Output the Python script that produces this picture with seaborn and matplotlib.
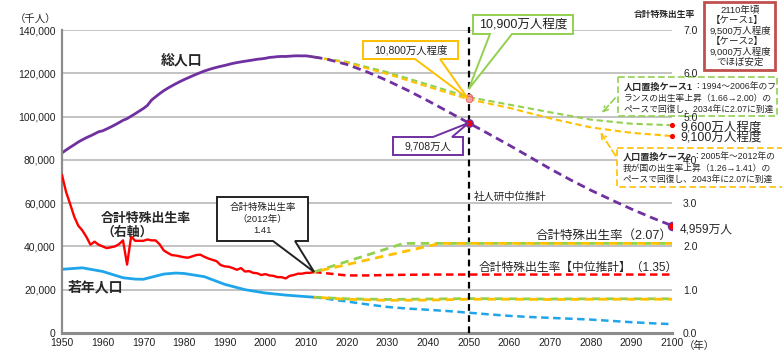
import matplotlib
matplotlib.use("Agg")
import matplotlib.pyplot as plt
import numpy as np
import pandas as pd
import seaborn as sns
from matplotlib.patches import Polygon, Rectangle, FancyArrowPatch
from matplotlib.transforms import Affine2D
from matplotlib.ticker import FuncFormatter, MultipleLocator

# ---------------- data ----------------
pop_years = list(range(1950, 2013))
pop_total = [83200, 84541, 85808, 86981, 88239, 89276, 90259, 91088, 92010, 92971,
             93419, 94287, 95181, 96156, 97182, 98275, 99036, 100196, 101331, 102536,
             103720, 105145, 107595, 109104, 110573, 111940, 113094, 114165, 115190, 116155,
             117060, 117902, 118728, 119536, 120305, 121049, 121660, 122239, 122745, 123205,
             123611, 124101, 124567, 124938, 125265, 125570, 125859, 126157, 126472, 126667,
             126926, 127316, 127486, 127694, 127787, 127768, 127901, 128033, 128084, 128032,
             128057, 127799, 127515]

proj_years = [2012, 2015, 2020, 2025, 2030, 2035, 2040, 2045, 2050, 2055, 2060,
              2065, 2070, 2075, 2080, 2085, 2090, 2095, 2100]
pop_mid = [127515, 126597, 124100, 120659, 116618, 112124, 107276, 102210, 97076, 91933,
           86737, 81355, 75900, 70800, 66000, 61600, 57300, 53300, 49591]

case_years = [2012, 2020, 2030, 2040, 2050, 2060, 2070, 2080, 2090, 2100]
pop_case1 = [127515, 125300, 120500, 114800, 109000, 105500, 102000, 98600, 96700, 96000]
pop_case2 = [127515, 124900, 119700, 113800, 108000, 104000, 99200, 95000, 92500, 91000]

young_years = [1950, 1955, 1960, 1965, 1968, 1970, 1975, 1978, 1980, 1985, 1990,
               1995, 2000, 2005, 2010, 2012]
young_actual = [29428, 30123, 28434, 25529, 24900, 24823, 27221, 27700, 27507, 26033,
                22486, 20014, 18472, 17521, 16803, 16547]
young_mid = [16547, 15827, 14568, 13240, 12039, 11287, 10732, 10116, 9387, 8614,
             7912, 7400, 7000, 6600, 6200, 5600, 5000, 4500, 4100]
young_case1 = [16547, 15800, 15500, 15700, 15900, 15800, 15700, 15800, 15800, 15800]
young_case2 = [16547, 15600, 15100, 15200, 15600, 15600, 15500, 15600, 15600, 15600]

tfr_years = list(range(1950, 2013))
tfr = [3.65, 3.26, 2.98, 2.69, 2.48, 2.37, 2.22, 2.04, 2.11, 2.04,
       2.00, 1.96, 1.98, 2.00, 2.05, 2.14, 1.58, 2.23, 2.13, 2.13,
       2.13, 2.16, 2.14, 2.14, 2.05, 1.91, 1.85, 1.80, 1.79, 1.77,
       1.75, 1.74, 1.77, 1.80, 1.81, 1.76, 1.72, 1.69, 1.66, 1.57,
       1.54, 1.53, 1.50, 1.46, 1.50, 1.42, 1.43, 1.39, 1.38, 1.34,
       1.36, 1.33, 1.32, 1.29, 1.29, 1.26, 1.32, 1.34, 1.37, 1.37,
       1.39, 1.39, 1.41]
tfr_mid_years = [2012, 2015, 2020, 2025, 2030, 2040, 2050, 2100]
tfr_mid = [1.41, 1.38, 1.33, 1.33, 1.34, 1.35, 1.35, 1.35]
tfr_case1_years = [2012, 2034, 2100]
tfr_case1 = [1.41, 2.07, 2.07]
tfr_case2_years = [2012, 2043, 2100]
tfr_case2 = [1.41, 2.07, 2.07]

x_ticks = list(range(1950, 2101, 10))
y_ticks = list(range(0, 140001, 20000))
y2_ticks = [0, 1, 2, 3, 4, 5, 6, 7]

# ---------------- style ----------------
sns.set_style("white")
plt.rcParams['font.family'] = ['Liberation Sans', 'Noto Sans CJK JP']
plt.rcParams['axes.unicode_minus'] = False

PURPLE = '#7030A0'
RED = '#FF0000'
BLUE = '#1FA5EA'
GREEN = '#92D050'
YELLOW = '#FFC000'
GRAY = '#8C8C8C'

W, H = 782, 358
fig = plt.figure(figsize=(W / 100, H / 100), dpi=100)
ax = fig.add_axes([62 / W, 1 - 333 / H, (672 - 62) / W, (333 - 30) / H])
ax2 = ax.twinx()

PIX = Affine2D().scale(1 / W, -1 / H).translate(0, 1) + fig.transFigure


def ftext(x, y, s, **kw):
    kw.setdefault('zorder', 6)
    return fig.text(x / W, 1 - y / H, s, **kw)


# ---------------- lines ----------------
d = (0, (3, 1.8))
sns.lineplot(x=pop_years, y=pop_total, ax=ax, color=PURPLE, lw=2.0)
sns.lineplot(x=case_years, y=pop_case1, ax=ax, color=GREEN, lw=1.5, linestyle=(0, (3, 1.8)))
sns.lineplot(x=case_years, y=pop_case2, ax=ax, color=YELLOW, lw=1.5, linestyle=(0, (3, 1.8)))
sns.lineplot(x=proj_years, y=pop_mid, ax=ax, color=PURPLE, lw=2.0, linestyle=(0, (3, 1.8)))

sns.lineplot(x=young_years, y=young_actual, ax=ax, color=BLUE, lw=2.0)
sns.lineplot(x=proj_years, y=young_mid, ax=ax, color=BLUE, lw=1.8, linestyle=(0, (3, 1.8)))
sns.lineplot(x=case_years, y=young_case1, ax=ax, color=GREEN, lw=2.0, linestyle=(0, (3, 2)))
sns.lineplot(x=case_years, y=young_case2, ax=ax, color=YELLOW, lw=2.0, linestyle=(2.5, (3, 2)))

sns.lineplot(x=tfr_years, y=tfr, ax=ax2, color=RED, lw=1.7)
sns.lineplot(x=tfr_mid_years, y=tfr_mid, ax=ax2, color=RED, lw=1.8, linestyle=(0, (3, 1.8)))
sns.lineplot(x=tfr_case1_years, y=tfr_case1, ax=ax2, color=GREEN, lw=2.0, linestyle=(0, (3, 2)))
sns.lineplot(x=tfr_case2_years, y=tfr_case2, ax=ax2, color=YELLOW, lw=2.0, linestyle=(2.5, (3, 2)))

# vertical 2050 line
ax.axvline(2050, ymin=0, ymax=1.01, color='black', lw=1.6, linestyle=(0, (3, 2)), clip_on=False, zorder=3)

# markers
i50 = proj_years.index(2050)
c50 = case_years.index(2050)
sns.scatterplot(x=[2050], y=[pop_mid[i50]], ax=ax, s=28, color=RED, edgecolor=PURPLE, linewidth=1.0, zorder=5)
sns.scatterplot(x=[2100], y=[pop_mid[-1]], ax=ax, s=34, color=RED, edgecolor=PURPLE, linewidth=1.0, zorder=5)
sns.scatterplot(x=[2050, 2050], y=[pop_case1[c50], pop_case2[c50]], ax=ax, s=22,
                color='#F4A0A0', edgecolor='#E06060', linewidth=0.6, zorder=5)
sns.scatterplot(x=[2100, 2100], y=[pop_case1[-1], pop_case2[-1]], ax=ax, s=14,
                color=RED, edgecolor=RED, linewidth=0, zorder=5, clip_on=False)

# ---------------- axes ----------------
ax.set_xlim(1950, 2100)
ax.set_ylim(0, 140000)
ax2.set_ylim(0, 7)
for a in (ax, ax2):
    a.set_xlabel('')
    a.set_ylabel('')

ax.set_xticks(x_ticks)
ax.xaxis.set_minor_locator(MultipleLocator(5))
ax.set_yticks(y_ticks)
ax.yaxis.set_major_formatter(FuncFormatter(lambda v, p: f'{int(v):,}'))
ax.tick_params(axis='y', length=0, pad=4.5, labelsize=7.5, labelcolor='#222222')
ax.tick_params(axis='x', which='both', direction='inout', length=5, width=1,
               color=GRAY, labelsize=7.5, pad=1, labelcolor='#222222')
ax.yaxis.grid(True, color='#BEBEBE', lw=1.3)
ax.set_axisbelow(True)

ax2.set_yticks(y2_ticks)
ax2.yaxis.set_major_formatter(FuncFormatter(lambda v, p: f'{v:.1f}'))
ax2.tick_params(axis='y', length=0, pad=8, labelsize=7.5, labelcolor='#222222')
ax2.set_axisbelow(True)

for s in ('top', 'right'):
    ax.spines[s].set_visible(False)
ax.spines['left'].set_color(GRAY)
ax.spines['left'].set_linewidth(1.6)
ax.spines['bottom'].set_color(GRAY)
ax.spines['bottom'].set_linewidth(2.2)
for s in ax2.spines.values():
    s.set_visible(False)


def to_pix(a, x, y):
    dd = a.transData.transform((x, y))
    f = fig.transFigure.inverted().transform(dd)
    return f[0] * W, (1 - f[1]) * H


def callout(box, base, tip, color, text, fs=7, side='bottom', lw=1.4, ls='-'):
    x0, y0, x1, y1 = box
    b0, b1 = base
    if side == 'bottom':
        verts = [(x0, y0), (x1, y0), (x1, y1), (b1, y1), tip, (b0, y1), (x0, y1)]
    else:
        verts = [(x0, y0), (b0, y0), tip, (b1, y0), (x1, y0), (x1, y1), (x0, y1)]
    p = Polygon(verts, closed=True, transform=PIX, fc='white', ec=color, lw=lw,
                zorder=5, joinstyle='miter', linestyle=ls)
    fig.add_artist(p)
    ftext((x0 + x1) / 2, (y0 + y1) / 2, text, ha='center', va='center', fontsize=fs,
          linespacing=1.3, color='#222222')


# ---------------- annotations ----------------
tip12 = to_pix(ax2, tfr_years[-1], tfr[-1])
callout((217, 197, 308, 241), (273, 295), tip12, '#222222', '合計特殊出生率\n（2012年）\n1.41', fs=6.8)

tip_c2 = to_pix(ax, 2050, pop_case2[c50])
callout((363, 41, 458, 59), (415, 440), (tip_c2[0] - 1, tip_c2[1] - 1), YELLOW, '10,800万人程度', fs=7.5)

tip_c1 = to_pix(ax, 2050, pop_case1[c50])
callout((473, 15, 573, 34), (490, 512), (tip_c1[0], tip_c1[1] - 8), GREEN, '10,900万人程度', fs=9)

tip_m = to_pix(ax, 2050, pop_mid[i50])
callout((393, 137, 463, 155), (433, 452), tip_m, PURPLE, '9,708万人', fs=7.5, side='top')

# red box top right
fig.add_artist(Rectangle((704, 2), 71, 68, transform=PIX, fc='white', ec='#C0504D', lw=2, zorder=5))
ftext(740, 10, '2110年頃', ha='center', va='center', fontsize=6.8)
ftext(711, 20.5, '【ケース1】', ha='left', va='center', fontsize=6.8)
ftext(740, 31, '9,500万人程度', ha='center', va='center', fontsize=6.8)
ftext(711, 41.5, '【ケース2】', ha='left', va='center', fontsize=6.8)
ftext(740, 52, '9,000万人程度', ha='center', va='center', fontsize=6.8)
ftext(740, 62, 'でほぼ安定', ha='center', va='center', fontsize=6.8)

# dashed explanation boxes (below ax2 tick labels)
for (bx, col) in (((618, 77, 159, 39), GREEN), ((617, 148, 170, 39), YELLOW)):
    r = Rectangle((bx[0], bx[1]), bx[2], bx[3], transform=PIX, fc='white', ec=col,
                  lw=1.2, linestyle=(0, (4, 2)), zorder=0.3)
    ax2.add_artist(r)
    r.set_clip_on(False)

renderer = fig.canvas.get_renderer()


def mixed_line(x, y, bold, rest, fs=6.3):
    t = ftext(x, y, bold, ha='left', va='center', fontsize=fs + 0.3, fontweight='bold')
    w = t.get_window_extent(renderer=renderer).width
    ftext(x + w, y, rest, ha='left', va='center', fontsize=fs)


mixed_line(624, 87, '人口置換ケース1', '：1994～2006年のフ')
ftext(624, 98.5, 'ランスの出生率上昇（1.66→2.00）の', ha='left', va='center', fontsize=6.3)
ftext(624, 109.5, 'ペースで回復し、2034年に2.07に到達', ha='left', va='center', fontsize=6.3)

mixed_line(623, 157, '人口置換ケース2', '：2005年～2012年の')
ftext(623, 168.5, '我が国の出生率上昇（1.26→1.41）の', ha='left', va='center', fontsize=6.3)
ftext(623, 179.5, 'ペースで回復し、2043年に2.07に到達', ha='left', va='center', fontsize=6.3)

fig.add_artist(FancyArrowPatch((617, 96), (600, 115), transform=PIX, arrowstyle='->',
                               mutation_scale=9, color=GREEN, lw=1.2, linestyle=(0, (4, 2)), zorder=5))
fig.add_artist(FancyArrowPatch((617, 158), (599, 130), transform=PIX, arrowstyle='->',
                               mutation_scale=9, color=YELLOW, lw=1.2, linestyle=(0, (4, 2)), zorder=5))

# text labels
ftext(36, 20, '（千人）', ha='center', va='center', fontsize=7.5)
ftext(664, 15, '合計特殊出生率', ha='center', va='center', fontsize=6.3, fontweight='bold')
ftext(182, 60, '総人口', ha='center', va='center', fontsize=10, fontweight='bold')
ftext(101, 226, '合計特殊出生率\n（右軸）', ha='left', va='center', fontsize=9.3,
      fontweight='bold', linespacing=1.1)
ftext(68, 287, '若年人口', ha='left', va='center', fontsize=10, fontweight='bold')
ftext(510, 197, '社人研中位推計', ha='center', va='center', fontsize=7.5)
ftext(672, 236, '合計特殊出生率（2.07）', ha='right', va='center', fontsize=9)
ftext(479, 268, '合計特殊出生率【中位推計】（1.35）', ha='left', va='center', fontsize=8.5)
ftext(680, 127, '9,600万人程度', ha='left', va='center', fontsize=9)
ftext(680, 138, '9,100万人程度', ha='left', va='center', fontsize=9)
ftext(680, 230, '4,959万人', ha='left', va='center', fontsize=8.5)
ftext(684, 346, '（年）', ha='left', va='center', fontsize=7.5)

fig.savefig('out.png', dpi=100)
